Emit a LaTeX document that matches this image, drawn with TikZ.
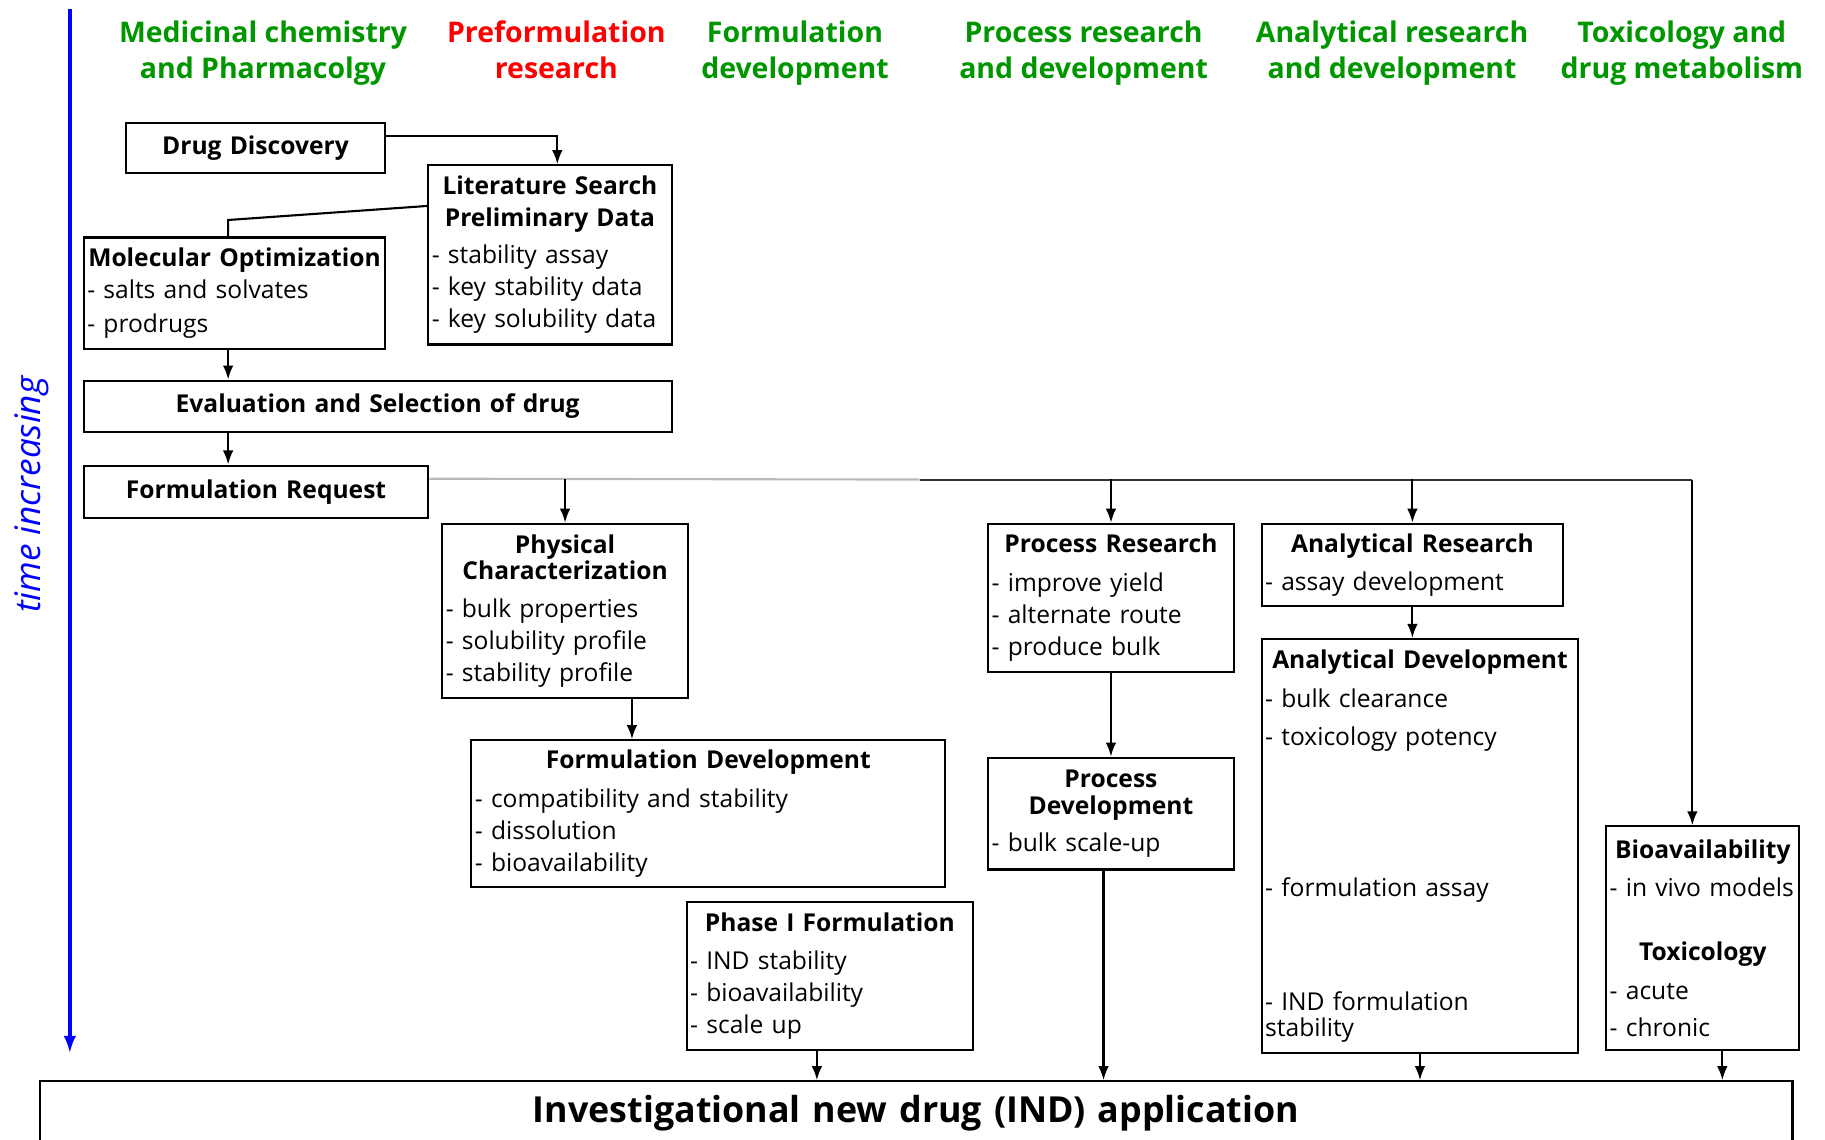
\documentclass[tikz,border=0pt]{standalone}
\usepackage{fontspec}
\setmainfont{Open Sans}
\usepackage{tikz}
\usetikzlibrary{arrows.meta,positioning,calc}
\definecolor{hdgreen}{RGB}{0,150,0}
\definecolor{hdred}{RGB}{255,0,0}
\definecolor{tmblue}{RGB}{0,0,255}
\newlength{\pxu}
\setlength{\pxu}{0.01164cm}
\newcommand{\hd}[1]{\makebox[\linewidth][c]{\bfseries #1}}
\newcommand{\itm}[1]{\mbox{- #1}}
\tikzset{
    stage/.style={
        anchor=north,align=center,text=hdgreen,
        font=\fontsize{8.1}{10.3}\selectfont\bfseries
    },
    box/.style 2 args={
        draw,line width=.6pt,inner xsep=1pt,inner ysep=0pt,
        text width=#1*\pxu-2pt,minimum height=#2*\pxu,
        align=left,font=\fontsize{7}{9.1}\selectfont
    },
    arr/.style={
        -{Latex[length=4pt,width=3pt]},line width=.6pt
    },
    link/.style={line width=.6pt}
}

\begin{document}
\begin{tikzpicture}[x=0.01164cm,y=-0.01164cm]
\useasboundingbox (0,0) rectangle (1568,979);
\clip (0,0) rectangle (1568,979);

% column heads
\node[stage] (medchem) at (226,7) {Medicinal chemistry\\and Pharmacolgy};
\node[stage,text=hdred] (preform) at (478,7) {Preformulation\\research};
\node[stage] (formdev) at (683,7) {Formulation\\development};
\node[stage] (procrd) at (931,7) {Process research\\and development};
\node[stage] (analrd) at (1196,7) {Analytical research\\and development};
\node[stage] (toxdm) at (1445,7) {Toxicology and\\drug metabolism};

% time axis
\coordinate (t0) at (60,8);
\coordinate (t1) at (60,905);
\draw[tmblue,line width=1pt,-{Latex[length=5pt,width=3.6pt]}] (t0) -- (t1);
\node[rotate=90,text=tmblue,font=\fontsize{10}{12}\selectfont\itshape]
(tlabel) at (27,425) {time increasing};

\node[box={223}{43},align=center] (disc) at (219.5,127)
{\bfseries Drug Discovery};

\node[box={209}{154}] (lit) at (472.5,219)
{\hd{Literature Search}\\\hd{Preliminary Data}\\[1.5pt]
\itm{stability assay}\\\itm{key stability data}\\\itm{key solubility data}};

\node[box={259}{96}] (molopt) at (201.5,252)
{\hd{Molecular Optimization}\\\itm{salts and solvates}\\[.6pt]\itm{prodrugs}};

\node[box={505}{44},align=center] (eval) at (324.5,349)
{\bfseries Evaluation and Selection of drug};

\node[box={296}{45},align=center] (freq) at (220,422.5)
{\bfseries Formulation Request};

\node[box={211}{150}] (phys) at (485.5,525)
{\hd{Physical}\\[-1.8pt]\hd{Characterization}\\[1.8pt]
\itm{bulk properties}\\\itm{solubility profile}\\\itm{stability profile}};

\node[box={407}{126}] (fdev) at (608.5,699)
{\hd{Formulation Development}\\[1.8pt]
\itm{compatibility and stability}\\\itm{dissolution}\\\itm{bioavailability}};

\node[box={246}{127}] (phase) at (713,838.5)
{\hd{Phase I Formulation}\\[1.8pt]
\itm{IND stability}\\\itm{bioavailability}\\\itm{scale up}};

\node[box={211}{127}] (pres) at (954.5,513.5)
{\hd{Process Research}\\[1.8pt]
\itm{improve yield}\\\itm{alternate route}\\\itm{produce bulk}};

\node[box={211}{96}] (pdev) at (954.5,699)
{\hd{Process}\\[-1.5pt]\hd{Development}\\[1.3pt]\itm{bulk scale-up}};

\node[box={259}{71}] (ares) at (1213.5,485.5)
{\hd{Analytical Research}\\[1.8pt]\itm{assay development}};

\node[box={272}{356}] (adev) at (1220,727)
{\hd{Analytical Development}\\[1.8pt]
\itm{bulk clearance}\\[1.8pt]\itm{toxicology potency}\\[34pt]
\itm{formulation assay}\\[23.3pt]\itm{IND formulation}\\[-1.8pt]stability};

\node[box={166}{192}] (bio) at (1463,806)
{\hd{Bioavailability}\\[1.8pt]\itm{in vivo models}\\[9.1pt]
\hd{Toxicology}\\[1.8pt]\itm{acute}\\[1.5pt]\itm{chronic}};

\node[box={1506}{54},align=center,font=\fontsize{10.2}{12}\selectfont\bfseries]
(ind) at (787,956) {Investigational new drug (IND) application};

% connectors
\coordinate (dtap) at ($(disc.north east)!.28!(disc.south east)$);
\coordinate (lin) at ($(lit.north west)!.53!(lit.north east)$);
\draw[arr] (dtap) -| (lin);

\coordinate (lout) at ($(lit.north west)!.23!(lit.south west)$);
\coordinate (bend) at (196,189);
\draw[link] (lout) -- (bend) -- (bend |- molopt.north);
\draw[arr] (bend |- molopt.south) -- (bend |- eval.north);
\draw[arr] (bend |- eval.south) -- (bend |- freq.north);

\coordinate (tap) at ($(freq.north east)!.26!(freq.south east)$);
\coordinate (fade) at (790,412);
\coordinate (drop) at (1454,412);
\draw[link,gray!55] (tap) -- (fade);
\draw[link,black!80] (fade) -- (drop);
\draw[arr] (drop) -- (drop |- bio.north);
\draw[arr] (tap -| phys.north) -- (phys.north);
\draw[arr] (tap -| pres.north) -- (pres.north);
\draw[arr] (tap -| ares.north) -- (ares.north);

\coordinate (pout) at ($(phys.south west)!.77!(phys.south east)$);
\draw[arr] (pout) -- (pout |- fdev.north);
\draw[arr] (pres.south) -- (pdev.north);
\draw[arr] (ares.south) -- (ares.south |- adev.north);

\coordinate (phout) at ($(phase.south west)!.455!(phase.south east)$);
\coordinate (pdout) at ($(pdev.south west)!.47!(pdev.south east)$);
\coordinate (bout) at ($(bio.south west)!.6!(bio.south east)$);
\draw[arr] (phout) -- (phout |- ind.north);
\draw[arr] (pdout) -- (pdout |- ind.north);
\draw[arr] (adev.south) -- (adev.south |- ind.north);
\draw[arr] (bout) -- (bout |- ind.north);

\end{tikzpicture}
\end{document}
